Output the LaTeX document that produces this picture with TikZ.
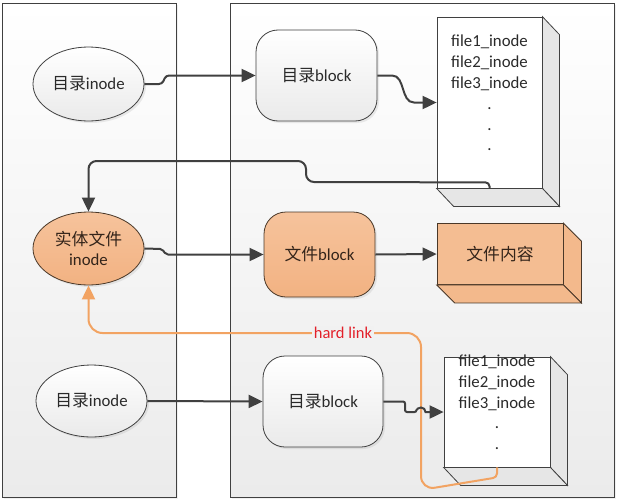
\documentclass[tikz,border=0pt]{standalone}
\usepackage{fontspec}
\setmainfont{Carlito}
\newfontfamily\cjk{Noto Sans CJK SC}
\usetikzlibrary{arrows.meta,shapes.geometric,shadows,calc}
\definecolor{edge}{HTML}{404040}
\definecolor{txt}{HTML}{2A2A2A}
\definecolor{panelbot}{HTML}{EBEBEB}
\definecolor{nodebot}{HTML}{EAEAEA}
\definecolor{orgtop}{HTML}{F6C39C}
\definecolor{orgbot}{HTML}{F2B282}
\definecolor{orgface}{HTML}{F4BD92}
\definecolor{orgside}{HTML}{F3B98C}
\definecolor{orgedge}{HTML}{4A3828}
\definecolor{orgtxt}{HTML}{33241A}
\definecolor{sidegray}{HTML}{E6E6E6}
\definecolor{hlorange}{HTML}{F2A362}
\definecolor{hlred}{HTML}{E3202A}
\tikzset{
  basefont/.style={font=\fontsize{16.8}{20.8}\selectfont},
  panel/.style={rectangle, draw=edge, line width=0.8pt, top color=white, bottom color=panelbot, inner sep=0pt,
    drop shadow={opacity=0.12, shadow xshift=2pt, shadow yshift=-2pt}},
  wellipse/.style={ellipse, draw=edge, line width=0.8pt, top color=white, bottom color=nodebot, inner sep=0pt,
    basefont, text=txt, align=center, drop shadow={opacity=0.15, shadow xshift=2pt, shadow yshift=-2pt}},
  oellipse/.style={wellipse, draw=orgedge, top color=orgtop, bottom color=orgbot, text=orgtxt},
  wblock/.style={rectangle, rounded corners=22pt, draw=edge, line width=0.8pt, top color=white, bottom color=nodebot,
    inner sep=0pt, basefont, text=txt, drop shadow={opacity=0.15, shadow xshift=2pt, shadow yshift=-2pt}},
  oblock/.style={wblock, draw=orgedge, top color=orgtop, bottom color=orgbot, text=orgtxt},
  listface/.style={rectangle, draw=edge, fill=white, line width=0.8pt, inner sep=0pt},
  oface/.style={rectangle, draw=orgedge, fill=orgface, line width=0.8pt, inner sep=0pt, basefont, text=orgtxt},
  sideface/.style={draw=edge, line width=0.8pt, fill=sidegray, line join=miter},
  osideface/.style={draw=orgedge, line width=0.8pt, fill=orgside, line join=miter},
  listtext/.style={inner sep=0pt, align=center, basefont, text=txt},
  conn/.style={draw=edge, line width=2pt, -{Triangle[length=14pt,width=13pt]}},
  hl/.style={draw=hlorange, line width=2pt, -{Triangle[length=14pt,width=13pt]}},
  hllabel/.style={inner sep=1.5pt, fill=panelbot!68!white, text=hlred, font=\fontsize{16.5}{19}\selectfont}
}
\begin{document}
\begin{tikzpicture}[x=1pt,y=-1pt]
\useasboundingbox (0,0) rectangle (620,503);
% panels
\node[panel, minimum width=174pt, minimum height=494pt] (P1) at (89,250) {};
\node[panel, minimum width=384pt, minimum height=494pt] (P2) at (422,250) {};

% nodes
\node[wellipse, minimum width=111pt, minimum height=74pt] (E1) at (88.5,84) {{\cjk 目录}inode};
\node[oellipse, minimum width=111pt, minimum height=73pt] (E2) at (88.5,248.5) {{\cjk 实体文件}\\inode};
\node[wellipse, minimum width=111pt, minimum height=72pt] (E3) at (91.5,401) {{\cjk 目录}inode};

\node[wblock, minimum width=121pt, minimum height=91pt] (B1) at (316.5,75.5) {{\cjk 目录}block};
\node[oblock, minimum width=111pt, minimum height=85pt] (B2) at (319.5,254.5) {{\cjk 文件}block};
\node[wblock, minimum width=120pt, minimum height=91pt] (B3) at (323,401.5) {{\cjk 目录}block};

% 3-D box 1
\node[listface, minimum width=105pt, minimum height=171pt] (L1) at (489.5,102.5) {};
\draw[sideface] (L1.north east) -- ++(17,18) -- ($(L1.south east)+(17,18)$) -- (L1.south east) -- cycle;
\draw[sideface] (L1.south west) -- (L1.south east) -- ++(17,18) -- ($(L1.south west)+(17,18)$) -- cycle;
\node[listtext, anchor=north] (L1t) at ($(L1.north)+(0,18.5)$) {file1\_inode\\file2\_inode\\file3\_inode\\.\\.\\.};

% 3-D box content
\node[oface, minimum width=126pt, minimum height=61pt] (C) at (500,254) {\cjk 文件内容};
\draw[osideface] (C.north east) -- ++(18,18) -- ($(C.south east)+(18,18)$) -- (C.south east) -- cycle;
\draw[osideface] (C.south west) -- (C.south east) -- ++(18,18) -- ($(C.south west)+(18,18)$) -- cycle;

% 3-D box 2
\node[listface, minimum width=106pt, minimum height=110pt] (L2) at (497,412) {};
\draw[sideface] (L2.north east) -- ++(17,18) -- ($(L2.south east)+(17,18)$) -- (L2.south east) -- cycle;
\draw[sideface] (L2.south west) -- (L2.south east) -- ++(17,18) -- ($(L2.south west)+(17,18)$) -- cycle;
\node[listtext, anchor=north] (L2t) at ($(L2.north)+(0,-2)$) {file1\_inode\\file2\_inode\\file3\_inode\\.\\.};

% connectors
\draw[conn, rounded corners=3pt] (E1.east) -- (162,84) -- (166,75.5) -- (B1.west);
\draw[conn] (B1.east) -- (392,75.5) to[out=0,in=180] (414,102.5) -- (L1.west);
\draw[conn, rounded corners=4pt] (L1.south) -- ($(L1.south)+(0,-6)$) [rounded corners=8pt] -- (306,182) -- (306,161) -- (E2.north |- 0,161) -- (E2.north);
\draw[conn, rounded corners=2pt] (E2.east) -- (162,249) -- (166,254.5) -- (B2.west);
\draw[conn] (B2.east) -- (C.west);
\draw[conn] (E3.east) -- (B3.west);

% hard link
\draw[hl, rounded corners=4pt] (L2.south) -- ($(L2.south)+(0,10)$) [rounded corners=14pt] -- (421,490) -- (421,333) -- (E2.south |- 0,333) -- (E2.south);
\node[hllabel] (H) at (343,333) {hard link};

\draw[conn, rounded corners=2pt] (B3.east) -- (405,401.5) -- (405,412) -- (416.5,412) [sharp corners] arc (180:360:4.5) -- (L2.west);
\end{tikzpicture}
\end{document}
